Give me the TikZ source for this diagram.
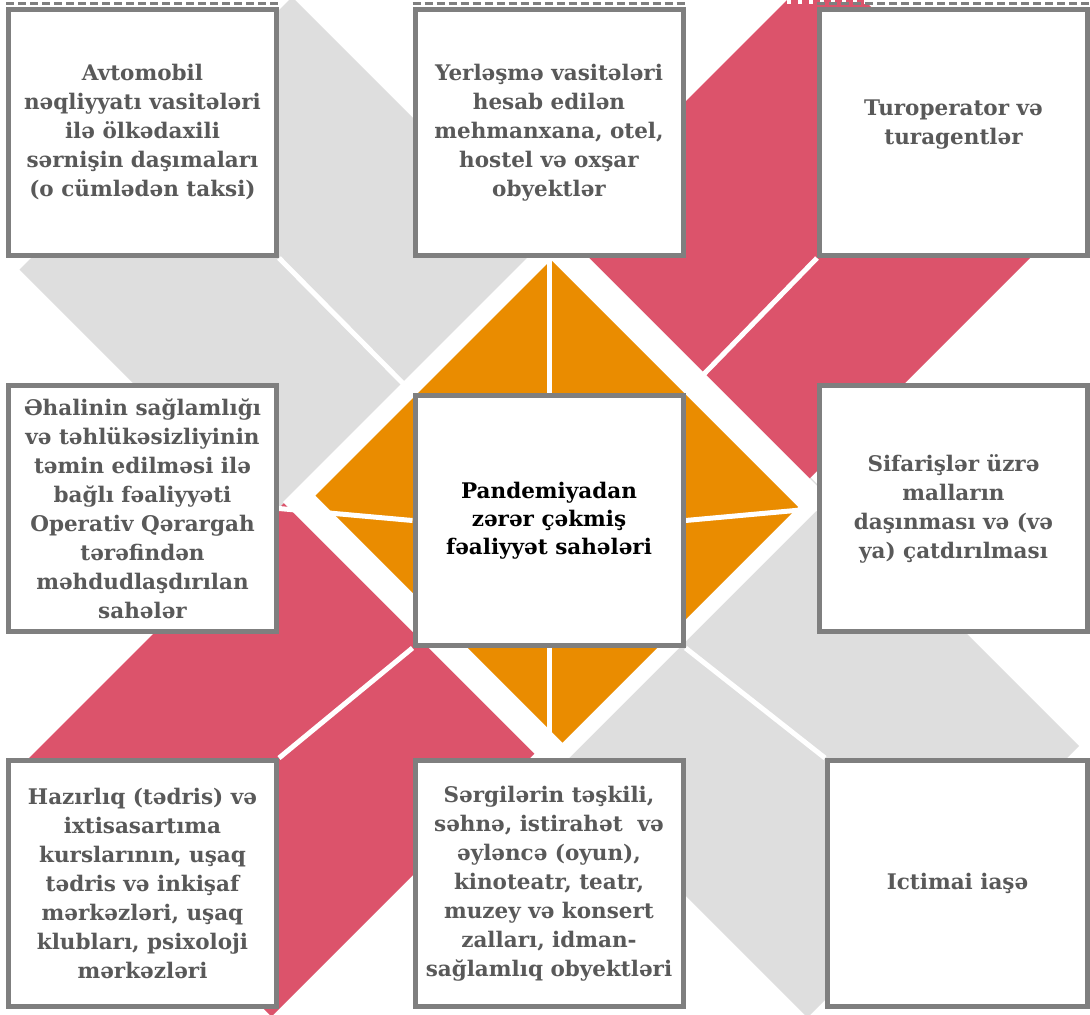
\documentclass[tikz,border=0pt]{standalone}
\usepackage{fontspec}
\setmainfont{DejaVu Serif}
\usepackage{xcolor}
\definecolor{bandgray}{HTML}{DEDEDE}
\definecolor{bandred}{HTML}{DC536B}
\definecolor{focus}{HTML}{EA8C00}
\definecolor{boxline}{HTML}{7F7F7F}
\definecolor{boxtext}{HTML}{595959}
\usetikzlibrary{positioning}
\pgfdeclarelayer{bg}
\pgfsetlayers{bg,main}
\tikzset{
	sahe/.style={draw=boxline, line width=5pt, fill=white, inner sep=0pt,
		minimum width=268pt, minimum height=246pt, align=center,
		text=boxtext, font=\bfseries\fontsize{21.5}{29}\selectfont},
	merkez/.style={sahe, minimum height=250pt, text=black,
		font=\bfseries\fontsize{21.5}{28}\selectfont},
	xett/.style={draw=white, line width=5pt},
	ust/.style={line width=2.5pt, dash pattern=on 8pt off 4pt}
}

\begin{document}
\begin{tikzpicture}[x=1pt,y=-1pt]
		\useasboundingbox (0,0) rectangle (1090,1015);
		
		%boxes
		\node[merkez] (mc) at (549,520.5) {Pandemiyadan\\ zərər çəkmiş\\ fəaliyyət sahələri};
		\node[sahe] (tl) at (142.5,132.5) {Avtomobil\\ nəqliyyatı vasitələri\\ ilə ölkədaxili\\ sərnişin daşımaları\\ (o cümlədən taksi)};
		\node[sahe] (tm) at (549,132.5) {Yerləşmə vasitələri\\ hesab edilən\\ mehmanxana, otel,\\ hostel və oxşar\\ obyektlər};
		\node[sahe] (tr) at (953.5,132.5) {Turoperator və\\ turagentlər\\[-9pt]};
		\node[sahe] (ml) at (142.5,508.5) {Əhalinin sağlamlığı\\ və təhlükəsizliyinin\\ təmin edilməsi ilə\\ bağlı fəaliyyəti\\ Operativ Qərargah\\ tərəfindən\\ məhdudlaşdırılan\\ sahələr};
		\node[sahe] (mr) at (953.5,508.5) {Sifarişlər üzrə\\ malların\\ daşınması və (və\\ ya) çatdırılması};
		\node[sahe] (bl) at (142.5,883.5) {Hazırlıq (tədris) və\\ ixtisasartıma\\ kurslarının, uşaq\\ tədris və inkişaf\\ mərkəzləri, uşaq\\ klubları, psixoloji\\ mərkəzləri};
		\node[sahe] (bm) at (549,883.5) {Sərgilərin təşkili,\\ səhnə, istirahət\ \ və\\ əyləncə (oyun),\\ kinoteatr, teatr,\\ muzey və konsert\\ zalları, idman-\\ sağlamlıq obyektləri};
		\node[sahe, minimum width=260pt] (br) at (957.5,883.5) {Ictimai iaşə};
		
		%dashed top edge
		\foreach \kutu in {tl,tm,tr}
		\draw[ust, boxline] (\kutu.north west) ++(0,-3.5) -- ++(272,0);
		
		\begin{pgfonlayer}{bg}
		\clip (0,0) rectangle (1090,1015);
		%draw bands
		\fill[bandgray] (292,-3) -- (19.5,269.5) -- (400,650) -- (672.5,377.5) -- cycle;
		\fill[bandgray] (691.5,358.5) -- (1079,746) -- (807.5,1017.5) -- (420,630) -- cycle;
		\fill[bandred] (825.5,-38.5) -- (1076,212) -- (271.5,1016.5) -- (21,766) -- cycle;
		\draw[white, line width=4pt, dash pattern=on 4pt off 7pt] (787,2) -- (870,2);
		
		%draw diamond
		\fill[white] (558,227) -- (829,498) -- (554,773) -- (283,502) -- cycle;
		\fill[focus] (551,260) -- (798,507) -- (562.5,742.5) -- (315.5,495.5) -- cycle;
		
		%white lines to the boxes
		\foreach \a/\b in {north west/tl.south east, north/tm.south, north east/tr.south west,
			west/ml.east, east/mr.west, south west/bl.north east, south/bm.north, south east/br.north west}
		\draw[xett] (mc.\a) -- (\b);
		\end{pgfonlayer}
\end{tikzpicture}
\end{document}
